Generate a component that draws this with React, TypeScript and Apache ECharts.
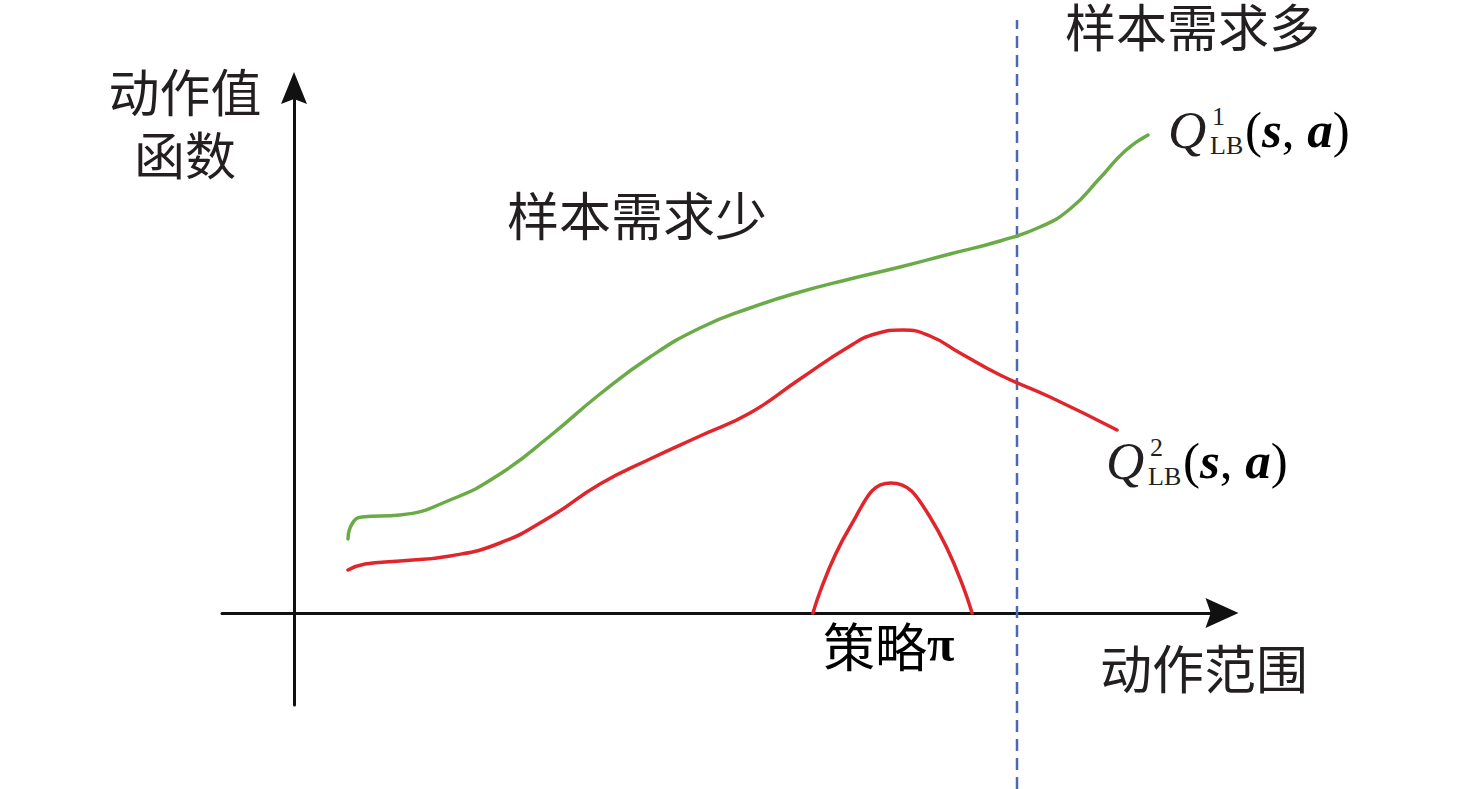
import React, { useEffect, useRef } from "react";
import * as echarts from "echarts";

// Coordinates: units are pixels measured from the axis origin (x right, y up)
const greenX = [54, 58, 68, 106, 156, 206, 256, 306, 356, 406, 456, 506, 556, 606, 656, 706, 746, 776, 806, 831, 854];
const greenY = [74, 89, 96, 98, 113, 139, 177, 219, 256, 285, 305, 321, 334, 346, 359, 372, 386, 404, 435, 462, 478];

const redX = [54, 71, 106, 156, 206, 256, 306, 356, 406, 456, 506, 556, 581, 609, 636, 666, 706, 756, 823];
const redY = [43, 49, 52, 57, 70, 96, 129, 154, 177, 200, 234, 267, 279, 283, 277, 260, 238, 216, 183];

const policyX = [519, 556, 597, 636, 678];
const policyY = [0, 86, 130, 96, 0];

const boundaryX = [723, 723];
const boundaryY = [-176, 593];

const zip = (xs: number[], ys: number[]) => xs.map((x, i) => [x, ys[i]]);

const CJK = "'Noto Sans CJK SC', 'Noto Sans CJK JP', sans-serif";
const SERIF = "'Liberation Serif', 'DejaVu Serif', serif";
const INK = "#231f20";

export default function App() {
  const ref = useRef<HTMLDivElement>(null);

  useEffect(() => {
    if (!ref.current) return;
    const chart = echarts.init(ref.current, undefined, { renderer: "svg" });

    const cjkText = (text: string, x: number, y: number, align = "left", size = 52) => ({
      type: "text",
      x,
      y,
      style: { text, fontSize: size, lineHeight: 63, fontFamily: CJK, fill: INK, align, verticalAlign: "middle" },
    });

    const qLabel = (x: number, y: number, sup: string) => [
      {
        type: "text",
        x,
        y,
        style: { text: "Q", fontSize: 53, fontFamily: SERIF, fontStyle: "italic", fill: INK, verticalAlign: "middle" },
      },
      {
        type: "text",
        x: x + 44,
        y: y - 14,
        style: { text: sup, fontSize: 26, fontFamily: SERIF, fill: INK, verticalAlign: "middle" },
      },
      {
        type: "text",
        x: x + 42,
        y: y + 15,
        style: { text: "LB", fontSize: 26, fontFamily: SERIF, fill: INK, verticalAlign: "middle" },
      },
      {
        type: "text",
        x: x + 77,
        y,
        style: {
          text: "{p|(}{b|s}{p|, }{b|a}{p|)}",
          verticalAlign: "middle",
          rich: {
            p: { fontSize: 51, fontFamily: SERIF, color: INK },
            b: { fontSize: 51, fontFamily: SERIF, fontStyle: "italic", fontWeight: "bold", color: INK },
          },
        },
      },
    ];

    const axisArrow = (w: number, h: number) => ({
      show: true,
      onZero: true,
      symbol: ["none", `path://M${w / 2},0 L${w},${h} L${w / 2},${h * 0.84} L0,${h} Z`],
      symbolSize: [w, h],
      lineStyle: { color: "#111111", width: 3 },
    });

    const curve = (xs: number[], ys: number[], color: string) => ({
      type: "line",
      xAxisIndex: 1,
      yAxisIndex: 1,
      data: zip(xs, ys),
      smooth: 0.5,
      showSymbol: false,
      lineStyle: { color, width: 3.5, cap: "round" },
      silent: true,
    });

    chart.setOption({
      animation: false,
      backgroundColor: "#ffffff",
      grid: [
        { left: 222, right: 254, top: 88, bottom: 84 },
        { left: 0, right: 0, top: 0, bottom: 0 },
      ],
      xAxis: [
        {
          gridIndex: 0,
          type: "value",
          min: -72,
          max: 928,
          axisLine: axisArrow(30, 33),
          axisTick: { show: false },
          axisLabel: { show: false },
          splitLine: { show: false },
        },
        { gridIndex: 1, type: "value", min: -294, max: 1182, show: false },
      ],
      yAxis: [
        {
          gridIndex: 0,
          type: "value",
          min: -92,
          max: 525,
          axisLine: axisArrow(26, 32),
          axisTick: { show: false },
          axisLabel: { show: false },
          splitLine: { show: false },
        },
        { gridIndex: 1, type: "value", min: -176, max: 613, show: false },
      ],
      series: [
        {
          type: "line",
          xAxisIndex: 1,
          yAxisIndex: 1,
          data: zip(boundaryX, boundaryY),
          showSymbol: false,
          lineStyle: { color: "#4a68b3", width: 2.5, type: [12, 7] },
          silent: true,
        },
        curve(greenX, greenY, "#6aab47"),
        curve(redX, redY, "#e0262c"),
        curve(policyX, policyY, "#e0262c"),
      ],
      graphic: [
        cjkText("动作值\n函数", 185, 121, "center", 51),
        cjkText("样本需求少", 507, 213),
        cjkText("样本需求多", 1065, 25, "left", 51),
        cjkText("动作范围", 1100, 666),
        {
          type: "text",
          x: 823,
          y: 644,
          style: {
            text: "{c|策略}{p|π}",
            verticalAlign: "middle",
            rich: {
              c: { fontSize: 52, fontFamily: CJK, color: INK },
              p: { fontSize: 50, fontFamily: SERIF, fontWeight: "bold", color: INK },
            },
          },
        },
        ...qLabel(1168, 130, "1"),
        ...qLabel(1106, 461, "2"),
      ],
    });

    return () => chart.dispose();
  }, []);

  return (
    <div
      ref={ref}
      style={{ position: "fixed", left: 0, top: 0, width: 1476, height: 789, background: "#fff" }}
    />
  );
}
